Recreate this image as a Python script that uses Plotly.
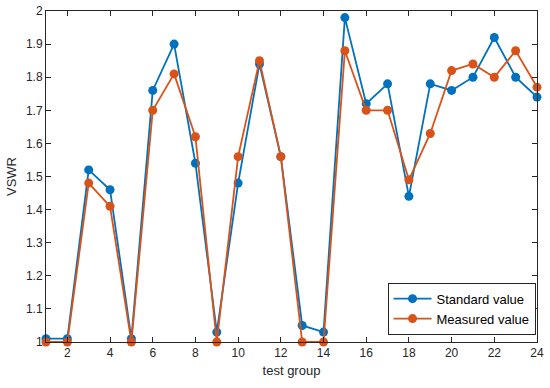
import plotly.graph_objects as go

groups = list(range(1, 25))
standard = [1.01, 1.01, 1.52, 1.46, 1.01, 1.76, 1.90, 1.54, 1.03, 1.48, 1.84, 1.56,
            1.05, 1.03, 1.98, 1.72, 1.78, 1.44, 1.78, 1.76, 1.80, 1.92, 1.80, 1.74]
measured = [1.00, 1.00, 1.48, 1.41, 1.00, 1.70, 1.81, 1.62, 1.00, 1.56, 1.85, 1.56,
            1.00, 1.00, 1.88, 1.70, 1.70, 1.49, 1.63, 1.82, 1.84, 1.80, 1.88, 1.77]
x_ticks = list(range(2, 25, 2))
y_ticks = [round(1 + 0.1 * i, 1) for i in range(11)]

fig = go.Figure()
fig.add_trace(go.Scatter(x=groups, y=standard, mode="lines+markers", name="Standard value",
                         line=dict(color="#0072BD", width=1.8),
                         marker=dict(color="#0072BD", size=9), cliponaxis=False))
fig.add_trace(go.Scatter(x=groups, y=measured, mode="lines+markers", name="Measured value",
                         line=dict(color="#D95319", width=1.8),
                         marker=dict(color="#D95319", size=9), cliponaxis=False))

axis_common = dict(showline=True, linecolor="#262626", linewidth=1, mirror="ticks",
                   ticks="inside", ticklen=5, tickcolor="#262626", showgrid=False,
                   zeroline=False, tickfont=dict(family="Liberation Sans, Arial", size=12, color="#262626"))

fig.update_layout(
    width=550, height=388,
    margin=dict(l=46, r=13, t=11, b=46, autoexpand=False),
    paper_bgcolor="white", plot_bgcolor="white",
    font=dict(family="Liberation Sans, Arial", color="#262626"),
    hovermode=False,
    xaxis=dict(range=[1, 24], tickvals=x_ticks, ticktext=[str(v) for v in x_ticks],
               title=dict(text="test group", font=dict(size=13), standoff=6), **axis_common),
    yaxis=dict(range=[1, 2], tickvals=y_ticks, ticktext=[("%g" % v) for v in y_ticks],
               title=dict(text="VSWR", font=dict(size=13), standoff=6), **axis_common),
    legend=dict(x=0.997, y=0.022, xanchor="right", yanchor="bottom",
                bordercolor="#262626", borderwidth=1, bgcolor="white",
                itemwidth=38, tracegroupgap=0,
                font=dict(size=13, color="black")),
    showlegend=True,
)

fig.write_html("out.html", config={"staticPlot": True},
               post_script="document.body.style.margin='0';")
